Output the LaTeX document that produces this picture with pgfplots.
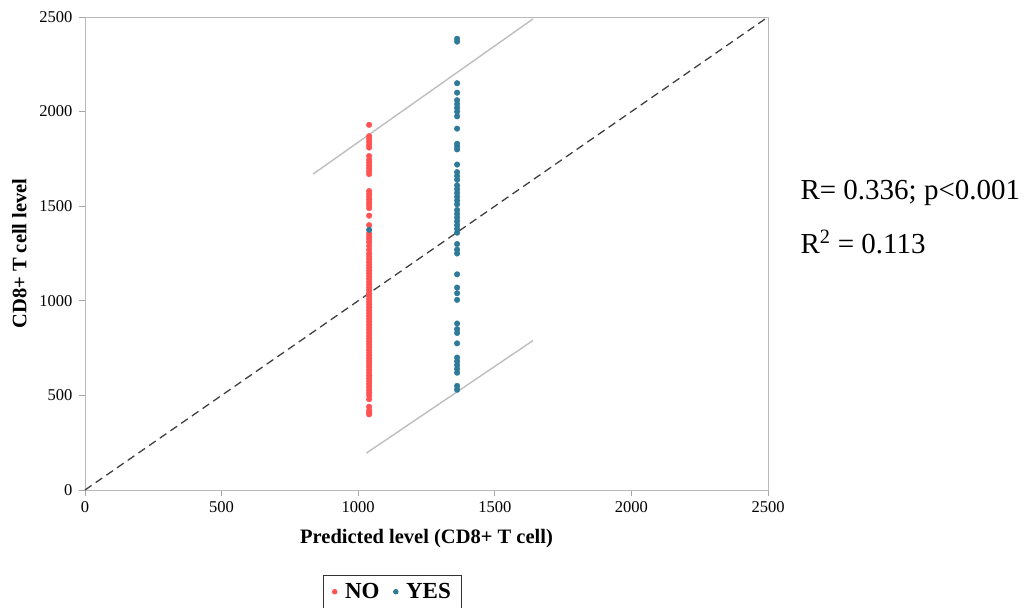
\documentclass[border=0pt]{standalone}
\usepackage{fontspec}
\setmainfont{Liberation Serif}
\usepackage{pgfplots}
\pgfplotsset{compat=1.18}
\definecolor{redno}{RGB}{255,82,82}
\definecolor{blueyes}{RGB}{46,122,152}
\definecolor{bandgray}{RGB}{190,190,190}

\begin{document}
\begin{tikzpicture}
\path[use as bounding box] (0,0) rectangle (1024pt,607pt);
\begin{axis}[
  at={(85pt,117pt)}, anchor=south west,
  width=683pt, height=473pt, scale only axis,
  xmin=0, xmax=2500, ymin=0, ymax=2500,
  xtick={0,500,...,2500}, ytick={0,500,...,2500},
  axis line style={gray!55, line width=0.8pt},
  tick style={gray!70, line width=0.8pt},
  tick align=outside, major tick length=6pt,
  xtick pos=bottom, ytick pos=left,
  /pgf/number format/assume math mode=true,
  /pgf/number format/1000 sep={},
  tick label style={font=\fontsize{16.5}{18}\selectfont},
  yticklabel style={xshift=-3pt},
  xticklabel style={yshift=-2pt},
  xlabel={\textbf{Predicted level (CD8+ T cell)}},
  ylabel={\textbf{CD8+ T cell level}},
  label style={font=\fontsize{20.5}{23}\selectfont},
  xlabel style={yshift=-10pt},
  ylabel style={yshift=6pt},
  clip=false,
  legend columns=2,
  legend style={at={(axis description cs:0.3485,-0.1797)}, anchor=north west,
    draw=black!80, line width=0.8pt, font=\fontsize{23}{26}\selectfont\bfseries,
    inner xsep=9pt, inner ysep=6pt,
    /tikz/every odd column/.append style={column sep=6pt},
    /tikz/every even column/.append style={column sep=12pt}},
  legend cell align=left,
  legend image post style={mark size=2.3pt},
]
% reference lines
\addplot[black!75, line width=1.3pt, dash pattern=on 8pt off 5pt, forget plot] coordinates {(0,0) (2500,2500)};
\addplot[bandgray, line width=1.4pt, forget plot] coordinates {(835,1670) (1640,2490)};
\addplot[bandgray, line width=1.4pt, forget plot] coordinates {(1030,195) (1640,790)};
% NO group
\addplot[only marks, mark=*, mark size=2.8pt, color=redno, draw=redno] coordinates {
(1040,1930) (1040,1870) (1040,1855) (1040,1840) (1040,1825) (1040,1810)
(1040,1765) (1040,1745) (1040,1730) (1040,1715) (1040,1700) (1040,1685) (1040,1670)
(1040,1580) (1040,1565) (1040,1550) (1040,1535) (1040,1520) (1040,1505) (1040,1490)
(1040,1450) (1040,1400) (1040,1355) (1040,1340) (1040,1325) (1040,1310) (1040,1290)
(1040,1270) (1040,1250) (1040,1235) (1040,1220) (1040,1205) (1040,1190) (1040,1175)
(1040,1160) (1040,1145) (1040,1130) (1040,1115) (1040,1100) (1040,1085) (1040,1070)
(1040,1055) (1040,1040) (1040,1025) (1040,1010) (1040,995) (1040,980) (1040,965)
(1040,950) (1040,935) (1040,920) (1040,905) (1040,890) (1040,875) (1040,860)
(1040,845) (1040,830) (1040,815) (1040,800) (1040,785) (1040,770) (1040,755)
(1040,740) (1040,725) (1040,710) (1040,695) (1040,680) (1040,665) (1040,650)
(1040,635) (1040,620) (1040,605) (1040,590) (1040,575) (1040,560) (1040,545)
(1040,530) (1040,515) (1040,500) (1040,480) (1040,440) (1040,420) (1040,410) (1040,400)
};
\addlegendentry{NO}
% YES group
\addplot[only marks, mark=*, mark size=2.8pt, color=blueyes, draw=blueyes] coordinates {
(1040,1375)
(1362,2385) (1362,2370) (1362,2150) (1362,2100) (1362,2060) (1362,2040) (1362,2020)
(1362,2000) (1362,1975) (1362,1910) (1362,1830) (1362,1815) (1362,1800) (1362,1720)
(1362,1680) (1362,1660) (1362,1640) (1362,1610) (1362,1590) (1362,1570) (1362,1550)
(1362,1530) (1362,1510) (1362,1480) (1362,1460) (1362,1440) (1362,1420) (1362,1400)
(1362,1380) (1362,1360) (1362,1300) (1362,1270) (1362,1250) (1362,1140) (1362,1070)
(1362,1040) (1362,1005) (1362,880) (1362,850) (1362,830) (1362,775) (1362,700)
(1362,680) (1362,660) (1362,640) (1362,620) (1362,550) (1362,530)
};
\addlegendentry{YES}
\end{axis}
\node[anchor=west, font=\fontsize{29}{33}\selectfont] at (797pt,414pt) {R= 0.336; p<0.001};
\node[anchor=west, font=\fontsize{29}{33}\selectfont] at (797pt,365pt) {R\textsuperscript{2} = 0.113};
\end{tikzpicture}
\end{document}
